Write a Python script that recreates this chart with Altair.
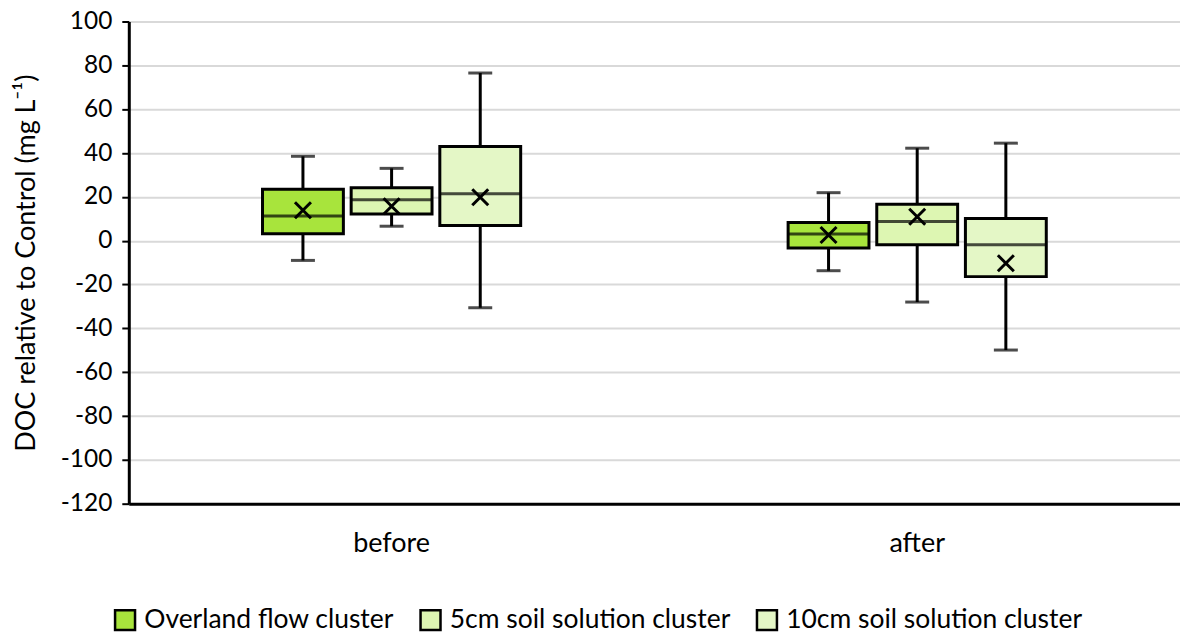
import altair as alt
import pandas as pd

groups = ["before", "after"]
series = ["Overland flow cluster", "5cm soil solution cluster", "10cm soil solution cluster"]
colors = ["#a8e43c", "#ddf6b2", "#e4f7c6"]

# per series, ordered [before, after]
lower = [[-9.0, -13.7], [6.6, -28.0], [-30.6, -49.9]]
q1 = [[3.2, -3.3], [12.2, -1.9], [6.9, -16.4]]
median = [[11.3, 3.0], [18.7, 8.7], [21.4, -1.8]]
q3 = [[23.5, 8.3], [24.1, 16.6], [43.0, 10.1]]
upper = [[38.5, 21.9], [33.0, 42.2], [76.5, 44.5]]
mean = [[13.9, 2.6], [15.7, 10.9], [19.8, -10.3]]

rows = []
for si, s in enumerate(series):
    for gi, g in enumerate(groups):
        rows.append(dict(group=g, series=s, lower=lower[si][gi], q1=q1[si][gi],
                         median=median[si][gi], q3=q3[si][gi], upper=upper[si][gi],
                         mean=mean[si][gi]))
df = pd.DataFrame(rows)

FONT = "Lato"

x = alt.X("group:N", sort=groups, title=None,
          scale=alt.Scale(paddingInner=0.494, paddingOuter=0.247),
          axis=alt.Axis(labelAngle=0, labelFontSize=27, labelColor="black", labelFont=FONT,
                        ticks=False, domainColor="black", domainWidth=3, labelPadding=27))
xo = alt.XOffset("series:N", sort=series,
                 scale=alt.Scale(paddingInner=0.09, paddingOuter=0.045))
yscale = alt.Scale(domain=[-120, 100], nice=False, zero=False)
yaxis = alt.Axis(values=list(range(-120, 101, 20)), labelExpr="'' + datum.value",
                 labelFontSize=24.5, labelColor="black",
                 labelFont=FONT, tickColor="black", tickSize=7, tickWidth=2,
                 domainColor="black", domainWidth=3, gridColor="#d9d9d9", gridWidth=2,
                 labelPadding=10, title="DOC relative to Control (mg L⁻¹)",
                 titleFontSize=27, titleFont=FONT, titleFontWeight="normal",
                 titleColor="black", titlePadding=20)

base = alt.Chart(df)

whisk = base.mark_rule(color="black", strokeWidth=3).encode(
    x=x, xOffset=xo, y=alt.Y("lower:Q", scale=yscale, axis=yaxis), y2="upper:Q")

box = base.mark_bar(stroke="black", strokeWidth=3, width=81).encode(
    x=x, xOffset=xo, y=alt.Y("q1:Q", scale=yscale), y2="q3:Q",
    fill=alt.Fill("series:N", sort=series,
                  scale=alt.Scale(domain=series, range=colors),
                  legend=alt.Legend(title=None, orient="none", direction="horizontal",
                                    legendX=-17, legendY=586, symbolType="square",
                                    symbolSize=400, symbolStrokeColor="black",
                                    symbolStrokeWidth=2.5, labelFontSize=26.5, labelFont=FONT,
                                    labelColor="black", labelOffset=6, columnPadding=21,
                                    labelLimit=500, symbolOpacity=1)))

cap_hi = base.mark_tick(color="black", thickness=3, size=24, orient="horizontal").encode(
    x=x, xOffset=xo, y=alt.Y("upper:Q", scale=yscale))
cap_lo = base.mark_tick(color="black", thickness=3, size=24, orient="horizontal").encode(
    x=x, xOffset=xo, y=alt.Y("lower:Q", scale=yscale))
med = base.mark_tick(color="black", thickness=3, size=81, orient="horizontal").encode(
    x=x, xOffset=xo, y=alt.Y("median:Q", scale=yscale))
mn = base.mark_point(shape="M-1,-1L1,1M-1,1L1,-1", size=256, filled=False, color="black",
                     strokeWidth=3, opacity=1).encode(
    x=x, xOffset=xo, y=alt.Y("mean:Q", scale=yscale))

chart = alt.layer(whisk, box, cap_hi, cap_lo, med, mn).properties(
    width=1053, height=483,
    autosize=alt.AutoSizeParams(type="none"),
    padding={"left": 121, "top": 13, "right": 0, "bottom": 130},
).configure_view(stroke=None).configure_axis(labelFont=FONT)

chart.save("out.html", embed_options={"renderer": "svg", "actions": False})
